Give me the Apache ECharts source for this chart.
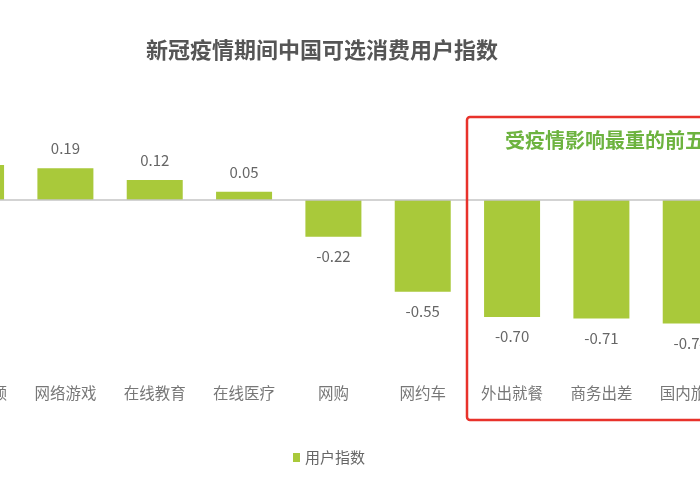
<!DOCTYPE html>
<html>
<head>
<meta charset="utf-8">
<script src="https://cdn.jsdelivr.net/npm/echarts@6/dist/echarts.min.js"></script>
<style>
html,body{margin:0;padding:0;background:#fff;width:700px;height:500px;overflow:hidden;position:relative}
#c{position:absolute;left:-69px;top:0;width:810px;height:500px}
</style>
</head>
<body>
<div id="c"></div>
<script>
const categories = ['在线视频', '网络游戏', '在线教育', '在线医疗', '网购', '网约车', '外出就餐', '商务出差', '国内旅游'];
const userIndex = [0.21, 0.19, 0.12, 0.05, -0.22, -0.55, -0.70, -0.71, -0.74];
const seriesName = '用户指数';
const titleText = '新冠疫情期间中国可选消费用户指数';
const boxText = '受疫情影响最重的前五';

const FONT = '"Noto Sans CJK SC", "Noto Sans", sans-serif';
const OFF = 69; // the chart is wider than the visible window and shifted left
const chart = echarts.init(document.getElementById('c'), null, {renderer: 'canvas'});

const barData = userIndex.map(v => ({
  value: v,
  label: { position: v >= 0 ? 'top' : 'bottom' }
}));

chart.setOption({
  animation: false,
  backgroundColor: '#fff',
  title: {
    text: titleText,
    left: 141 + OFF, top: 34,
    textStyle: { fontFamily: FONT, fontSize: 22, fontWeight: 'bold', color: '#555' }
  },
  legend: {
    data: [seriesName],
    left: 288 + OFF, top: 445,
    icon: 'rect', itemWidth: 7, itemHeight: 9, itemGap: 4,
    textStyle: { fontFamily: FONT, fontSize: 15, color: '#666' }
  },
  grid: { left: 0.4, right: 5.6, top: 133.2, bottom: 123, containLabel: false },
  xAxis: {
    type: 'category',
    data: categories,
    axisLine: { show: false, onZero: false },
    axisTick: { show: false },
    axisLabel: { interval: 0, margin: 8, fontFamily: FONT, fontSize: 15.5, color: '#777' }
  },
  yAxis: {
    type: 'value', min: -1.06, max: 0.4,
    show: false,
    splitLine: { show: false }
  },
  series: [{
    name: seriesName,
    type: 'bar',
    data: barData,
    barWidth: 56,
    itemStyle: { color: '#a9c93a' },
    label: {
      show: true, distance: 12,
      formatter: p => p.value.toFixed(2),
      fontFamily: FONT, fontSize: 15, color: '#666'
    },
    markLine: {
      silent: true, symbol: 'none',
      label: { show: false },
      lineStyle: { color: '#c4c4c4', type: 'solid', width: 1.5 },
      data: [{ yAxis: 0 }]
    }
  }],
  graphic: [
    {
      type: 'rect', z: 10,
      shape: { x: 467 + OFF, y: 117, width: 280, height: 303, r: 3 },
      style: { fill: 'none', stroke: '#e8322b', lineWidth: 2.5 }
    },
    {
      type: 'text', z: 10,
      left: 505 + OFF, top: 130,
      style: { text: boxText, fill: '#6db33f', font: 'bold 20px ' + FONT }
    }
  ]
});
</script>
</body>
</html>
